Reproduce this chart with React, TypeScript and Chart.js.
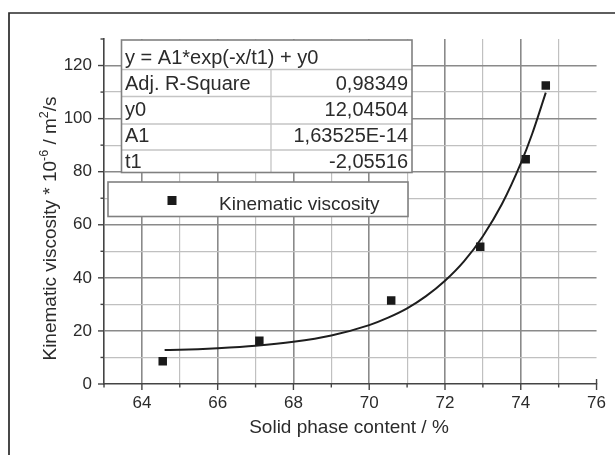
import React, { useEffect, useRef } from "react";
import { Chart, registerables } from "chart.js";

Chart.register(...registerables);

// Measured data
const solidContent = [64.55, 67.1, 70.58, 72.93, 74.13, 74.66];
const viscosity = [8.6, 16.3, 31.5, 51.7, 84.7, 112.5];

// Fitted curve
const fitX = [64.6, 65, 66, 67, 68, 69, 70, 70.5, 71, 71.5, 72, 72.5, 73, 73.5, 74, 74.3, 74.66];
const fitY = [12.8, 12.9, 13.5, 14.4, 15.9, 18.3, 22.2, 25.0, 28.5, 33.1, 38.9, 46.2, 55.7, 67.7, 83.1, 94.2, 109.8];

// Fit parameter table
const fitEquation = "y = A1*exp(-x/t1) + y0";
const paramNames = ["Adj. R-Square", "y0", "A1", "t1"];
const paramValues = ["0,98349", "12,04504", "1,63525E-14", "-2,05516"];

const seriesLabel = "Kinematic viscosity";
const xTitle = "Solid phase content / %";
const xMin = 63, xMax = 76, yMin = 0, yMax = 130;

const FONT = "'Liberation Sans', Arial, sans-serif";
const TEXT = "#2b2b2b";

const overlay = {
  id: "overlay",
  afterDraw(chart: any) {
    const ctx: CanvasRenderingContext2D = chart.ctx;
    const area = chart.chartArea;
    const xs = chart.scales.x;
    const ys = chart.scales.y;
    const line = (x1: number, y1: number, x2: number, y2: number) => {
      ctx.beginPath();
      ctx.moveTo(x1, y1);
      ctx.lineTo(x2, y2);
      ctx.stroke();
    };
    ctx.save();
    // tick marks
    ctx.strokeStyle = "#444";
    ctx.lineWidth = 1.4;
    for (let v = xMin; v <= xMax; v++) {
      const px = xs.getPixelForValue(v);
      const len = v % 2 === 0 ? 6 : 3.5;
      line(px, area.bottom, px, area.bottom + len);
    }
    line(area.right, area.bottom, area.right, area.bottom - 5);
    for (let v = yMin; v <= yMax; v += 10) {
      const py = ys.getPixelForValue(v);
      const len = v % 20 === 0 ? 6 : 3.5;
      line(area.left - len, py, area.left, py);
    }

    // outer frame
    ctx.strokeStyle = "#2a2a2a";
    ctx.lineWidth = 1.7;
    ctx.beginPath();
    ctx.moveTo(9, 460);
    ctx.lineTo(9, 13);
    ctx.lineTo(620, 13);
    ctx.stroke();

    // fit table
    const tL = 121.5, tR = 412, tT = 40, tB = 172.5, colX = 271;
    const rowLines = [69.5, 96.5, 124, 150];
    const baselines = [63.5, 90, 116, 142, 167.5];
    ctx.fillStyle = "#fff";
    ctx.fillRect(tL, tT, tR - tL, tB - tT);
    ctx.strokeStyle = "#c4c4c4";
    ctx.lineWidth = 1.3;
    rowLines.forEach((y) => line(tL, y, tR, y));
    line(colX, rowLines[0], colX, tB);
    ctx.strokeStyle = "#808080";
    ctx.lineWidth = 1.6;
    ctx.strokeRect(tL, tT, tR - tL, tB - tT);
    ctx.fillStyle = TEXT;
    ctx.font = `20px ${FONT}`;
    ctx.textBaseline = "alphabetic";
    ctx.textAlign = "left";
    ctx.fillText(fitEquation, tL + 3.5, baselines[0]);
    paramNames.forEach((n, i) => {
      ctx.textAlign = "left";
      ctx.fillText(n, tL + 3.5, baselines[i + 1]);
      ctx.textAlign = "right";
      ctx.fillText(paramValues[i], tR - 4, baselines[i + 1]);
    });

    // legend box
    const lL = 108, lT = 182, lR = 408, lB = 216.5;
    ctx.fillStyle = "#fff";
    ctx.fillRect(lL, lT, lR - lL, lB - lT);
    ctx.strokeStyle = "#808080";
    ctx.lineWidth = 1.6;
    ctx.strokeRect(lL, lT, lR - lL, lB - lT);
    ctx.fillStyle = "#1a1a1a";
    ctx.fillRect(172 - 4.5, 200.5 - 4.5, 9, 9);
    ctx.fillStyle = TEXT;
    ctx.font = `19px ${FONT}`;
    ctx.textAlign = "left";
    ctx.fillText(seriesLabel, 219, 210);

    // x title
    ctx.font = `19px ${FONT}`;
    ctx.textAlign = "center";
    ctx.textBaseline = "middle";
    ctx.fillText(xTitle, 349, 428);

    // y title with superscripts
    const segs: [string, boolean][] = [
      ["Kinematic viscosity * 10", false],
      ["-6", true],
      [" / m", false],
      ["2", true],
      ["/s", false],
    ];
    const big = `19px ${FONT}`;
    const small = `12.5px ${FONT}`;
    let total = 0;
    segs.forEach(([s, sup]) => {
      ctx.font = sup ? small : big;
      total += ctx.measureText(s).width;
    });
    ctx.translate(49, 228.5);
    ctx.rotate(-Math.PI / 2);
    ctx.textAlign = "left";
    ctx.textBaseline = "alphabetic";
    let cx = -total / 2;
    segs.forEach(([s, sup]) => {
      ctx.font = sup ? small : big;
      ctx.fillText(s, cx, sup ? -1 : 7);
      cx += ctx.measureText(s).width;
    });
    ctx.restore();
  },
};

export default function App() {
  const ref = useRef<HTMLCanvasElement | null>(null);
  useEffect(() => {
    document.body.style.margin = "0";
    const canvas = ref.current!;
    const majorColor = "#8a8a8a";
    const minorColor = "#c0c0c0";
    const chart = new Chart(canvas, {
      type: "scatter",
      data: {
        datasets: [
          {
            label: "fit",
            data: fitX.map((x, i) => ({ x, y: fitY[i] })),
            showLine: true,
            borderColor: "#1e1e1e",
            borderWidth: 2,
            pointRadius: 0,
            cubicInterpolationMode: "monotone",
            fill: false,
          } as any,
          {
            label: seriesLabel,
            data: solidContent.map((x, i) => ({ x, y: viscosity[i] })),
            pointStyle: "rect",
            pointRadius: 6,
            backgroundColor: "#1a1a1a",
            borderColor: "#1a1a1a",
            borderWidth: 0,
          },
        ],
      },
      options: {
        animation: false,
        responsive: false,
        devicePixelRatio: 1,
        layout: { padding: { left: 0, right: 15, top: 39, bottom: 0 } },
        plugins: { legend: { display: false }, tooltip: { enabled: false } },
        scales: {
          x: {
            type: "linear",
            min: xMin,
            max: xMax,
            afterFit: (s: any) => {
              s.height = 71;
            },
            afterBuildTicks: (s: any) => {
              const t = [];
              for (let v = xMin; v <= xMax; v++) t.push({ value: v });
              s.ticks = t;
            },
            ticks: {
              autoSkip: false,
              maxRotation: 0,
              padding: 9,
              color: TEXT,
              font: { family: FONT, size: 17 },
              callback: (v: any) => (Number(v) % 2 === 0 && Number(v) !== xMin ? String(v) : ""),
            },
            grid: {
              drawTicks: false,
              color: (c: any) => {
                const v = c.tick ? c.tick.value : 0;
                if (v === xMin || v === xMax) return "rgba(0,0,0,0)";
                return v % 2 === 0 ? majorColor : minorColor;
              },
              lineWidth: (c: any) => {
                const v = c.tick ? c.tick.value : 0;
                return v % 2 === 0 ? 1.6 : 1.2;
              },
            },
            border: { display: true, color: "#444", width: 1.6 },
          },
          y: {
            type: "linear",
            min: yMin,
            max: yMax,
            afterFit: (s: any) => {
              s.width = 104;
            },
            afterBuildTicks: (s: any) => {
              const t = [];
              for (let v = yMin; v <= yMax; v += 10) t.push({ value: v });
              s.ticks = t;
            },
            ticks: {
              autoSkip: false,
              padding: 12,
              color: TEXT,
              font: { family: FONT, size: 17 },
              callback: (v: any) => (Number(v) % 20 === 0 ? String(v) : ""),
            },
            grid: {
              drawTicks: false,
              color: (c: any) => {
                const v = c.tick ? c.tick.value : 0;
                if (v === yMin || v === yMax) return "rgba(0,0,0,0)";
                return v % 20 === 0 ? majorColor : minorColor;
              },
              lineWidth: (c: any) => {
                const v = c.tick ? c.tick.value : 0;
                return v % 20 === 0 ? 1.6 : 1.2;
              },
            },
            border: { display: true, color: "#444", width: 1.6 },
          },
        },
      },
      plugins: [overlay],
    });
    return () => chart.destroy();
  }, []);
  return <canvas ref={ref} width={615} height={455} style={{ display: "block", width: 615, height: 455 }} />;
}
